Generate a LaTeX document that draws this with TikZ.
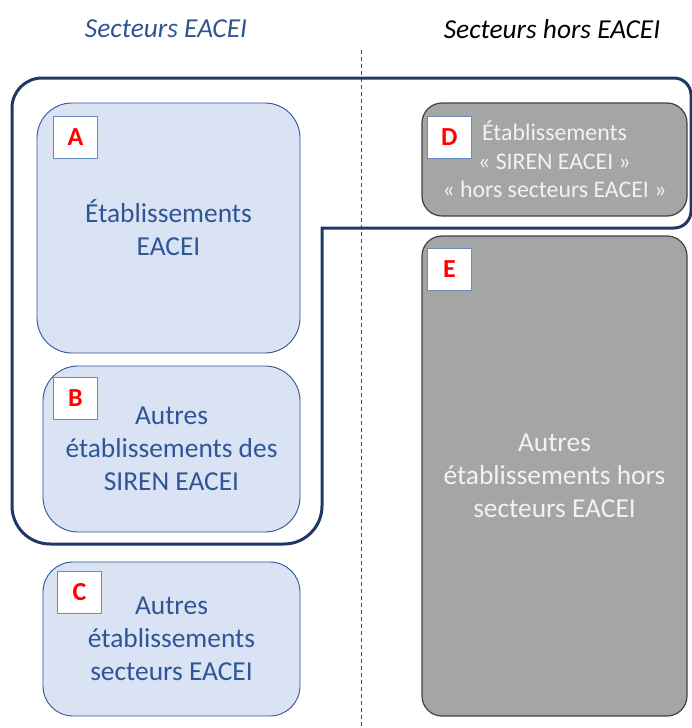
\documentclass[tikz,border=0pt]{standalone}
\usepackage{fontspec}
\setmainfont{Carlito}
\usetikzlibrary{positioning}
\definecolor{eaceiblue}{HTML}{2F5597}
\definecolor{eaceifill}{HTML}{DAE3F3}
\definecolor{eaceinavy}{HTML}{203864}
\definecolor{horsgray}{HTML}{A5A5A5}
\definecolor{horsdark}{HTML}{404040}
\definecolor{tagedge}{HTML}{6A8CBF}
\begin{document}
\begin{tikzpicture}[
    x=1pt, y=-1pt,
    eacei/.style={rectangle, draw=eaceiblue, fill=eaceifill, line width=0.9pt, text=eaceiblue, align=center, font=\fontsize{27.4}{33}\selectfont},
    hors/.style={rectangle, draw=horsdark, fill=horsgray, line width=1.2pt, text=white!95!black, align=center, font=\fontsize{27.4}{33}\selectfont},
    tag/.style={rectangle, draw=tagedge, fill=white, line width=0.8pt, minimum width=44pt, minimum height=42pt, anchor=north west, inner sep=0pt, text=red, font=\fontsize{26}{30}\selectfont\bfseries},
    titre/.style={font=\fontsize{27.4}{32}\selectfont\itshape},
    contour/.style={draw=eaceinavy, line width=3pt},
    separation/.style={draw=black!70, line width=0.8pt, dash pattern=on 4pt off 3pt}
]
\useasboundingbox (0,0) rectangle (692,728);

\coordinate (sephaut) at (361,50);
\coordinate (sepbas) at (361,728);
\draw[separation] (sephaut) -- (sepbas);

\node[titre, text=eaceiblue] (titreeacei) at (166,29) {Secteurs EACEI};
\node[titre, text=black] (titrehors) at (552,29) {Secteurs hors EACEI};

\node[eacei, minimum width=263pt, minimum height=250pt, rounded corners=35pt] (A) at (168.5,228) {Établissements\\EACEI};
\node[eacei, minimum width=257pt, minimum height=166pt, rounded corners=35pt] (B) at (171.5,449) {Autres\\établissements des\\SIREN EACEI};
\node[eacei, minimum width=257pt, minimum height=154pt, rounded corners=30pt] (C) at (171.5,639) {Autres\\établissements\\secteurs EACEI};

\node[hors, minimum width=265pt, minimum height=113pt, rounded corners=20pt, font=\fontsize{23.8}{28.5}\selectfont] (D) at (554.5,159.5) {Établissements\\« SIREN EACEI »\\« hors secteurs EACEI »};
\node[hors, minimum width=265pt, minimum height=480pt, rounded corners=20pt] (E) at (554.5,476) {Autres\\établissements hors\\secteurs EACEI};

\node[tag] (tagA) at (53,116) {A};
\node[tag] (tagB) at (53,377) {B};
\node[tag] (tagC) at (57,571) {C};
\node[tag] (tagD) at (427,116) {D};
\node[tag] (tagE) at (427,248) {E};

\draw[contour] (322,228) [rounded corners=38pt] -- (322,544) -- (12,544) [rounded corners=30pt] -- (12,78) [rounded corners=17pt] -- (691,78) -- (691,228) [sharp corners] -- cycle;
\end{tikzpicture}
\end{document}
